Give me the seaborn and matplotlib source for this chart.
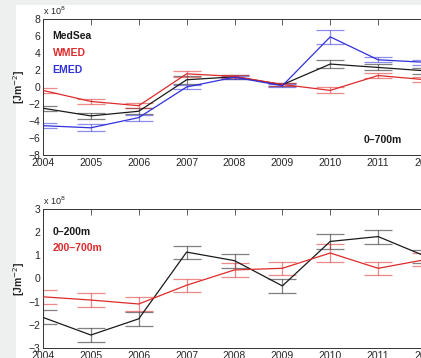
import numpy as np
import pandas as pd
import matplotlib
matplotlib.use("Agg")
import matplotlib.pyplot as plt
import seaborn as sns
from matplotlib.patches import Rectangle

# data (units of 1e8 J m^-2)
years = [2004, 2005, 2006, 2007, 2008, 2009, 2010, 2011, 2012]

medsea = [-2.5, -3.4, -2.85, 0.85, 1.2, 0.27, 2.7, 2.3, 1.9]
medsea_err = [0.3, 0.35, 0.35, 0.45, 0.2, 0.2, 0.5, 0.35, 0.35]
wmed = [-0.4, -1.7, -2.2, 1.55, 1.25, 0.3, -0.4, 1.35, 0.85]
wmed_err = [0.3, 0.3, 0.3, 0.35, 0.2, 0.2, 0.35, 0.3, 0.3]
emed = [-4.55, -4.8, -3.6, 0.0, 1.15, 0.15, 5.9, 3.2, 2.9]
emed_err = [0.3, 0.4, 0.35, 0.25, 0.2, 0.2, 0.8, 0.3, 0.3]

upper = [-1.68, -2.44, -1.74, 1.14, 0.77, -0.32, 1.6, 1.81, 0.95]
upper_err = [0.3, 0.3, 0.3, 0.28, 0.3, 0.3, 0.32, 0.3, 0.3]
lower = [-0.79, -0.93, -1.1, -0.29, 0.37, 0.44, 1.1, 0.44, 0.82]
lower_err = [0.29, 0.29, 0.29, 0.29, 0.3, 0.28, 0.38, 0.28, 0.3]

top_series = ["MedSea", "WMED", "EMED"]
bot_series = ["0\u2013200m", "200\u2013700m"]

BLACK = "#1a1a1a"
RED = "#dd2a2a"
BLUE = "#3030dd"

sns.set_style("white")
plt.rcParams["font.family"] = ["Liberation Sans", "DejaVu Sans"]
plt.rcParams["font.size"] = 7.5
plt.rcParams["axes.unicode_minus"] = False

fig = plt.figure(figsize=(4.21, 3.58), dpi=100)
fig.patch.set_facecolor("#eef0f0")
fig.patches.append(Rectangle((16 / 421, 0), 1, 1 - 5 / 358, transform=fig.transFigure,
                             facecolor="white", edgecolor="none", zorder=-1))

ax1 = fig.add_axes([43 / 421, 1 - 155 / 358, 383 / 421, 136 / 358])
ax2 = fig.add_axes([43 / 421, 1 - 348 / 358, 383 / 421, 139 / 358])


def draw(ax, names, vals, errs, colors):
    df = pd.DataFrame({"year": years * len(names),
                       "value": sum(vals, []),
                       "series": sum([[n] * len(years) for n in names], [])})
    sns.lineplot(data=df, x="year", y="value", hue="series", palette=dict(zip(names, colors)),
                 linewidth=0.9, legend=False, ax=ax, zorder=3)
    for v, e, c in zip(vals, errs, colors):
        ax.errorbar(years, v, yerr=e, fmt="none", ecolor=c, alpha=0.55,
                    elinewidth=0.9, capsize=10, capthick=0.9, zorder=2)


draw(ax1, top_series, [medsea, wmed, emed], [medsea_err, wmed_err, emed_err], [BLACK, RED, BLUE])
draw(ax2, bot_series, [upper, lower], [upper_err, lower_err], [BLACK, RED])

for ax, lim, step in [(ax1, 8, 2), (ax2, 3, 1)]:
    ax.set_xlim(2004, 2012)
    ax.set_ylim(-lim, lim)
    ax.set_xticks(years)
    ax.set_xticklabels([str(y) for y in years])
    ax.set_yticks(np.arange(-lim, lim + 1, step))
    ax.set_yticklabels([str(int(t)).replace("-", "\u2212") for t in np.arange(-lim, lim + 1, step)])
    ax.tick_params(direction="in", length=4, width=0.6, color="#444444", pad=2,
                   top=True, right=False, labelsize=7.5)
    for s in ax.spines.values():
        s.set_linewidth(0.7)
        s.set_color("#333333")
    ax.set_xlabel("")
    ax.set_ylabel("[Jm$^{-2}$]", fontsize=7.5, fontweight="bold", labelpad=1)
    ax.text(0.0, 1.015, "x 10$^8$", transform=ax.transAxes, fontsize=6.5, va="bottom")

ax1.text(2004.2, 6, "MedSea", color=BLACK, fontweight="bold", va="center")
ax1.text(2004.2, 4, "WMED", color=RED, fontweight="bold", va="center")
ax1.text(2004.2, 2, "EMED", color=BLUE, fontweight="bold", va="center")
ax1.text(2010.7, -6.2, "0\u2013700m", color=BLACK, fontweight="bold", va="center")

ax2.text(2004.2, 2, bot_series[0], color=BLACK, fontweight="bold", va="center")
ax2.text(2004.2, 1.3, bot_series[1], color=RED, fontweight="bold", va="center")

fig.savefig("out.png", dpi=100)
